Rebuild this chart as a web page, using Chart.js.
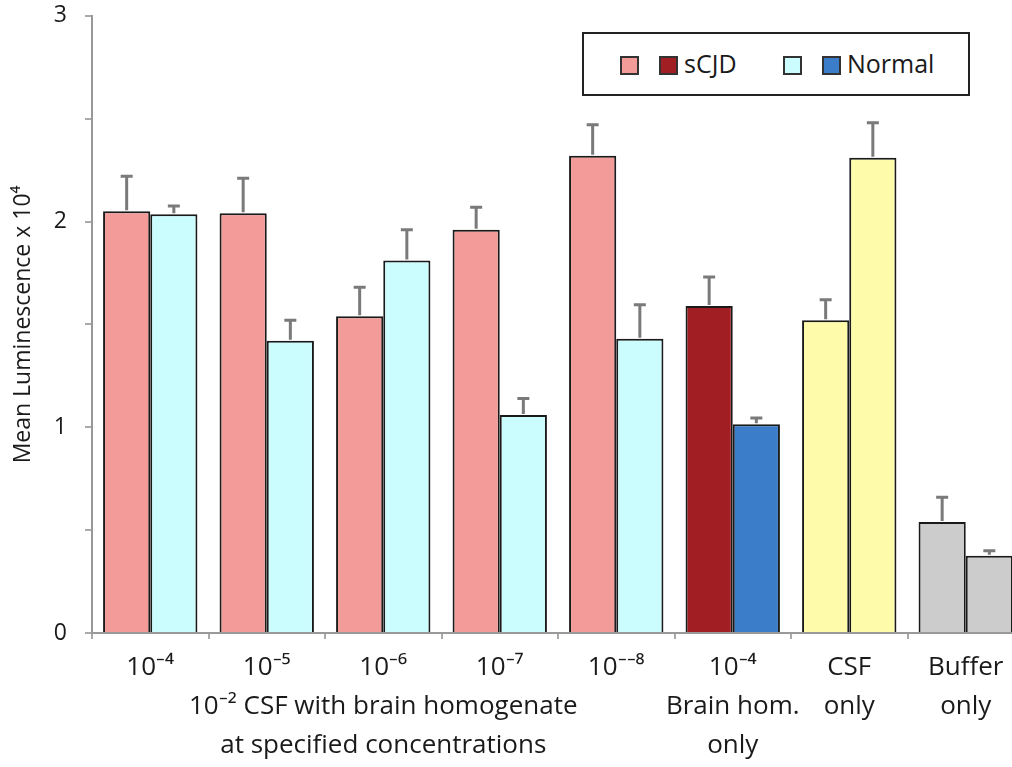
<!DOCTYPE html>
<html>
<head>
<meta charset="utf-8">
<script src="https://cdn.jsdelivr.net/npm/chart.js@4.4.1/dist/chart.umd.min.js"></script>
<style>
  html, body { margin: 0; padding: 0; background: #fff; overflow: hidden; width: 1012px; height: 767px; }
  #wrap { position: relative; width: 1012px; height: 767px; overflow: hidden; }
  #chart { position: absolute; left: 0; top: -16px; }
  #legend { position: absolute; left: 582px; top: 32px; width: 384px; height: 60px; border: 2px solid #222; background: #fff; font-family: 'Open Sans', sans-serif; font-size: 25px; color: #1a1a1a; }
  #legend .sw { position: absolute; top: 22px; width: 15px; height: 15px; border: 2px solid #333; }
  #legend .tx { position: absolute; top: 14px; line-height: 30px; }
</style>
</head>
<body>
<div id="wrap">
  <canvas id="chart" width="1024" height="783"></canvas>
  <div id="legend"></div>
</div>
<script>
// chart data
const tickLabels = [
  ['10⁻⁴'],
  ['10⁻⁵'],
  ['10⁻⁶', '10⁻² CSF with brain homogenate', 'at specified concentrations'],
  ['10⁻⁷'],
  ['10⁻⁻⁸'],
  ['10⁻⁴', 'Brain hom.', 'only'],
  ['CSF', 'only'],
  ['Buffer', 'only']
];
const sCJDVals = [2.05, 2.04, 1.54, 1.96, 2.32, 1.59, 1.52, 0.54];
const sCJDErr = [0.17, 0.17, 0.14, 0.11, 0.15, 0.14, 0.10, 0.12];
const normalVals = [2.035, 1.42, 1.81, 1.06, 1.43, 1.015, 2.31, 0.375];
const normalErr = [0.04, 0.10, 0.15, 0.08, 0.165, 0.03, 0.17, 0.025];
const sCJDColors = ['#f29b99', '#f29b99', '#f29b99', '#f29b99', '#f29b99', '#a11e22', '#fefcaa', '#cccccc'];
const normalColors = ['#ccfdfe', '#ccfdfe', '#ccfdfe', '#ccfdfe', '#ccfdfe', '#3b7dc9', '#fefcaa', '#cccccc'];
const legendItems = [
  { color: '#f29b99', label: '' },
  { color: '#a11e22', label: 'sCJD' },
  { color: '#ccfdfe', label: '' },
  { color: '#3b7dc9', label: 'Normal' }
];
const yTitle = 'Mean Luminescence x 10⁴';

// legend box (html)
const legendPos = [36, 75, 199, 238];
const legend = document.getElementById('legend');
legendItems.forEach((item, i) => {
  const sw = document.createElement('div');
  sw.className = 'sw';
  sw.style.left = legendPos[i] + 'px';
  sw.style.background = item.color;
  legend.appendChild(sw);
  if (item.label) {
    const tx = document.createElement('div');
    tx.className = 'tx';
    tx.style.left = (legendPos[i] + 25) + 'px';
    tx.textContent = item.label;
    legend.appendChild(tx);
  }
});

const errorBars = {
  id: 'errorBars',
  afterDatasetsDraw(chart) {
    const ctx = chart.ctx;
    const y = chart.scales.y;
    ctx.save();
    ctx.strokeStyle = '#7a7a7a';
    ctx.lineWidth = 3;
    chart.data.datasets.forEach((ds, d) => {
      chart.getDatasetMeta(d).data.forEach((bar, i) => {
        const top = y.getPixelForValue(ds.data[i] + ds.err[i]);
        ctx.beginPath();
        ctx.moveTo(bar.x, bar.y - 1);
        ctx.lineTo(bar.x, top);
        ctx.moveTo(bar.x - 6, top);
        ctx.lineTo(bar.x + 6, top);
        ctx.stroke();
      });
    });
    ctx.restore();
  }
};

new Chart(document.getElementById('chart'), {
  type: 'bar',
  data: {
    labels: tickLabels,
    datasets: [
      { label: 'sCJD', data: sCJDVals, err: sCJDErr, backgroundColor: sCJDColors, borderColor: '#1a1a1a', borderWidth: 2 },
      { label: 'Normal', data: normalVals, err: normalErr, backgroundColor: normalColors, borderColor: '#1a1a1a', borderWidth: 2 }
    ]
  },
  options: {
    responsive: false,
    animation: false,
    devicePixelRatio: 1,
    layout: { padding: { top: 0, right: 0, left: 0, bottom: 0 } },
    datasets: { bar: { categoryPercentage: 0.81, barPercentage: 1.0 } },
    plugins: { legend: { display: false }, tooltip: { enabled: false } },
    scales: {
      x: {
        afterFit(scale) { scale.height = 134; },
        grid: { offset: true, drawOnChartArea: false, tickLength: 6, color: '#aaa', lineWidth: 2 },
        border: { color: '#999', width: 2 },
        ticks: {
          padding: 9,
          maxRotation: 0,
          autoSkip: false,
          color: '#1a1a1a',
          font: { family: 'Open Sans', size: 26, lineHeight: 1.5 }
        }
      },
      y: {
        min: 0,
        max: 3,
        afterFit(scale) { scale.width = 92; },
        grid: { drawOnChartArea: false, tickLength: 7, color: '#aaa', lineWidth: 2 },
        border: { color: '#999', width: 2 },
        ticks: {
          stepSize: 0.5,
          padding: 18,
          color: '#1a1a1a',
          font: { family: 'Open Sans', size: 23 },
          callback: v => Number.isInteger(v) ? v : ''
        },
        title: {
          display: true,
          text: yTitle,
          color: '#1a1a1a',
          padding: { top: 10, bottom: 0 },
          font: { family: 'Open Sans', size: 23 }
        }
      }
    }
  },
  plugins: [errorBars]
});
</script>
</body>
</html>
